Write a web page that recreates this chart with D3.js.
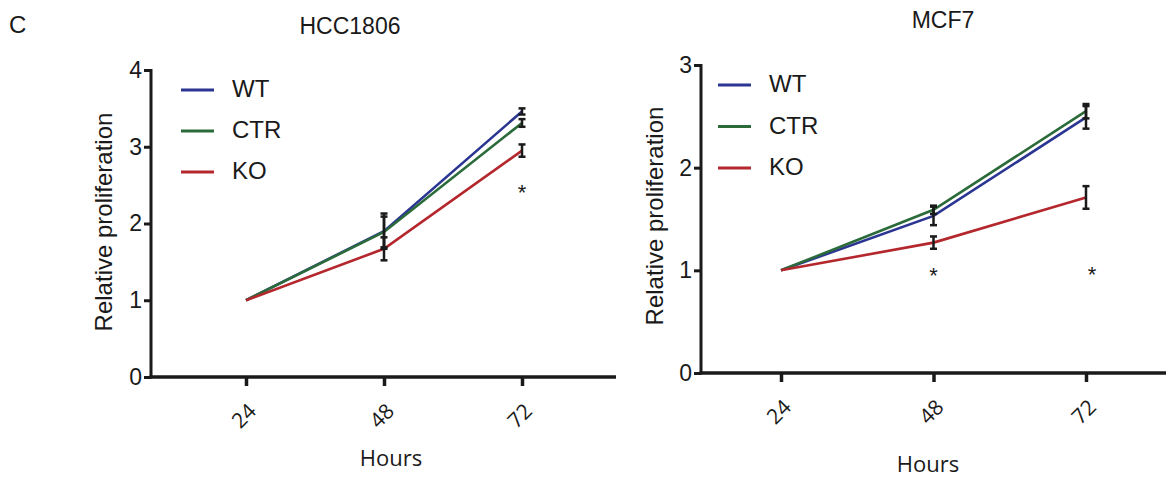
<!DOCTYPE html>
<html>
<head>
<meta charset="utf-8">
<script src="https://cdn.jsdelivr.net/npm/d3@7"></script>
<style>
  body { margin: 0; background: #fff; }
  svg { display: block; }
  text { fill: #1a1a1a; }
</style>
</head>
<body>
<svg id="chart" width="1166" height="478"></svg>
<script>
// data
var hours = [24, 48, 72];
var seriesNames = ["WT", "CTR", "KO"];
var seriesColors = ["#2b3592", "#2b6b3a", "#b3272d"];

// HCC1806
var hccWT = [1, 1.90, 3.46];
var hccWTErr = [0, 0.23, 0.04];
var hccCTR = [1, 1.89, 3.31];
var hccCTRErr = [0, 0.20, 0.05];
var hccKO = [1, 1.67, 2.95];
var hccKOErr = [0, 0.15, 0.08];
var hccStars = [{ hour: 72, y: 2.49 }];

// MCF7
var mcfWT = [1, 1.53, 2.49];
var mcfWTErr = [0, 0.09, 0.11];
var mcfCTR = [1, 1.59, 2.55];
var mcfCTRErr = [0, 0.04, 0.07];
var mcfKO = [1, 1.27, 1.71];
var mcfKOErr = [0, 0.06, 0.11];
var mcfStars = [{ hour: 48, y: 1.01 }, { hour: 72, y: 1.02, dx: 6 }];

var yTicksHcc = [0, 1, 2, 3, 4];
var yTicksMcf = [0, 1, 2, 3];

var svg = d3.select("#chart");

svg.append("text")
    .attr("x", 9).attr("y", 33)
    .attr("font-size", 24)
    .style("font-family", "Liberation Sans, Arial, sans-serif")
    .style("font-size", "24px")
    .text("C");

function drawPanel(p) {
    var g = svg.append("g");
    var x = d3.scaleLinear().domain([24, 72]).range(p.xRange);
    var y = d3.scaleLinear().domain(p.yDomain).range(p.yRange);
    var y0 = p.yRange[0];

    // title
    g.append("text")
        .attr("x", p.title[0]).attr("y", p.title[1])
        .attr("text-anchor", "middle")
        .attr("dominant-baseline", "middle")
        .style("font-family", "Liberation Sans, Arial, sans-serif")
        .style("font-size", "23px")
        .text(p.name);

    // y axis
    var yAx = g.append("g")
        .attr("transform", "translate(" + p.axisX + ",0)")
        .call(d3.axisLeft(y).tickValues(p.yTicks).tickFormat(d3.format("d"))
            .tickSize(7).tickSizeOuter(0).tickPadding(2));
    yAx.select(".domain").remove();
    yAx.selectAll(".tick line").attr("stroke", "#1a1a1a").attr("stroke-width", 3);
    yAx.selectAll(".tick text")
        .style("font-family", "Liberation Sans, Arial, sans-serif")
        .style("font-size", "23px").attr("fill", "#1a1a1a");
    g.append("line")
        .attr("x1", p.axisX).attr("x2", p.axisX)
        .attr("y1", p.yRange[1] - 1).attr("y2", y0 + 1.5)
        .attr("stroke", "#1a1a1a").attr("stroke-width", 3);

    // x axis
    var xAx = g.append("g")
        .attr("transform", "translate(0," + y0 + ")")
        .call(d3.axisBottom(x).tickValues(hours).tickSize(9).tickSizeOuter(0).tickFormat(""));
    xAx.select(".domain").remove();
    xAx.selectAll(".tick line").attr("stroke", "#1a1a1a").attr("stroke-width", 3.5);
    g.append("line")
        .attr("x1", p.axisX - 1.5).attr("x2", p.xEnd)
        .attr("y1", y0).attr("y2", y0)
        .attr("stroke", "#1a1a1a").attr("stroke-width", 3.5);

    g.selectAll(".xlab").data(hours).enter().append("text")
        .attr("class", "xlab")
        .attr("transform", function (d) {
            return "translate(" + (x(d) - 1) + "," + (y0 + 40) + ") rotate(-45)";
        })
        .attr("text-anchor", "middle")
        .attr("dominant-baseline", "middle")
        .style("font-family", "Open Sans, sans-serif")
        .style("font-size", "21px")
        .text(function (d) { return d; });

    // axis titles
    g.append("text")
        .attr("x", p.xTitle[0]).attr("y", p.xTitle[1])
        .attr("text-anchor", "middle")
        .attr("dominant-baseline", "middle")
        .style("font-family", "Open Sans, sans-serif")
        .style("font-size", "22px")
        .text("Hours");
    g.append("text")
        .attr("transform", "translate(" + p.yTitle[0] + "," + p.yTitle[1] + ") rotate(-90)")
        .attr("text-anchor", "middle")
        .attr("dominant-baseline", "middle")
        .style("font-family", "Liberation Sans, Arial, sans-serif")
        .style("font-size", "24px")
        .text("Relative proliferation");

    // lines
    var line = d3.line()
        .x(function (d) { return x(d.h); })
        .y(function (d) { return y(d.v); });
    p.series.forEach(function (s, i) {
        var pts = hours.map(function (h, j) { return { h: h, v: s.values[j], e: s.errs[j] }; });
        g.append("path")
            .datum(pts)
            .attr("fill", "none")
            .attr("stroke", seriesColors[i])
            .attr("stroke-width", 2.6)
            .attr("d", line);
    });

    // error bars on top
    p.series.forEach(function (s) {
        var pts = hours.map(function (h, j) { return { h: h, v: s.values[j], e: s.errs[j] }; })
            .filter(function (d) { return d.e > 0; });
        var eb = g.selectAll(null).data(pts).enter().append("g")
            .attr("stroke", "#1a1a1a").attr("stroke-width", 2.5);
        eb.append("line")
            .attr("x1", function (d) { return x(d.h); })
            .attr("x2", function (d) { return x(d.h); })
            .attr("y1", function (d) { return y(d.v + d.e); })
            .attr("y2", function (d) { return y(d.v - d.e); });
        [1, -1].forEach(function (sign) {
            eb.append("line")
                .attr("x1", function (d) { return x(d.h) - 3.5; })
                .attr("x2", function (d) { return x(d.h) + 3.5; })
                .attr("y1", function (d) { return y(d.v + sign * d.e); })
                .attr("y2", function (d) { return y(d.v + sign * d.e); });
        });
    });

    // significance
    g.selectAll(".star").data(p.stars).enter().append("text")
        .attr("x", function (d) { return x(d.hour) + (d.dx || 0); })
        .attr("y", function (d) { return y(d.y) + 8; })
        .attr("text-anchor", "middle")
        .attr("dominant-baseline", "middle")
        .style("font-family", "Liberation Sans, Arial, sans-serif")
        .style("font-size", "22px")
        .text("*");

    // legend
    var leg = g.selectAll(".leg").data(seriesNames).enter().append("g")
        .attr("transform", function (d, i) {
            return "translate(" + p.legend[0] + "," + (p.legend[1] + i * p.legend[2]) + ")";
        });
    leg.append("line")
        .attr("x1", 0).attr("x2", 33)
        .attr("stroke", function (d, i) { return seriesColors[i]; })
        .attr("stroke-width", 3);
    leg.append("text")
        .attr("x", 51).attr("y", 1)
        .attr("dominant-baseline", "middle")
        .style("font-family", "Liberation Sans, Arial, sans-serif")
        .style("font-size", "24px")
        .text(function (d) { return d; });
}

drawPanel({
    name: "HCC1806",
    title: [350, 28],
    xRange: [246, 522],
    yDomain: [0, 4],
    yRange: [377, 70],
    yTicks: yTicksHcc,
    axisX: 151,
    xEnd: 616,
    xTitle: [391, 460],
    yTitle: [106, 222],
    legend: [181, 90, 41],
    stars: hccStars,
    series: [
        { values: hccWT, errs: hccWTErr },
        { values: hccCTR, errs: hccCTRErr },
        { values: hccKO, errs: hccKOErr }
    ]
});

drawPanel({
    name: "MCF7",
    title: [943, 22],
    xRange: [781, 1086],
    yDomain: [0, 3],
    yRange: [373, 65],
    yTicks: yTicksMcf,
    axisX: 701,
    xEnd: 1166,
    xTitle: [928, 466],
    yTitle: [657, 216],
    legend: [718, 85, 41.5],
    stars: mcfStars,
    series: [
        { values: mcfWT, errs: mcfWTErr },
        { values: mcfCTR, errs: mcfCTRErr },
        { values: mcfKO, errs: mcfKOErr }
    ]
});
</script>
</body>
</html>
